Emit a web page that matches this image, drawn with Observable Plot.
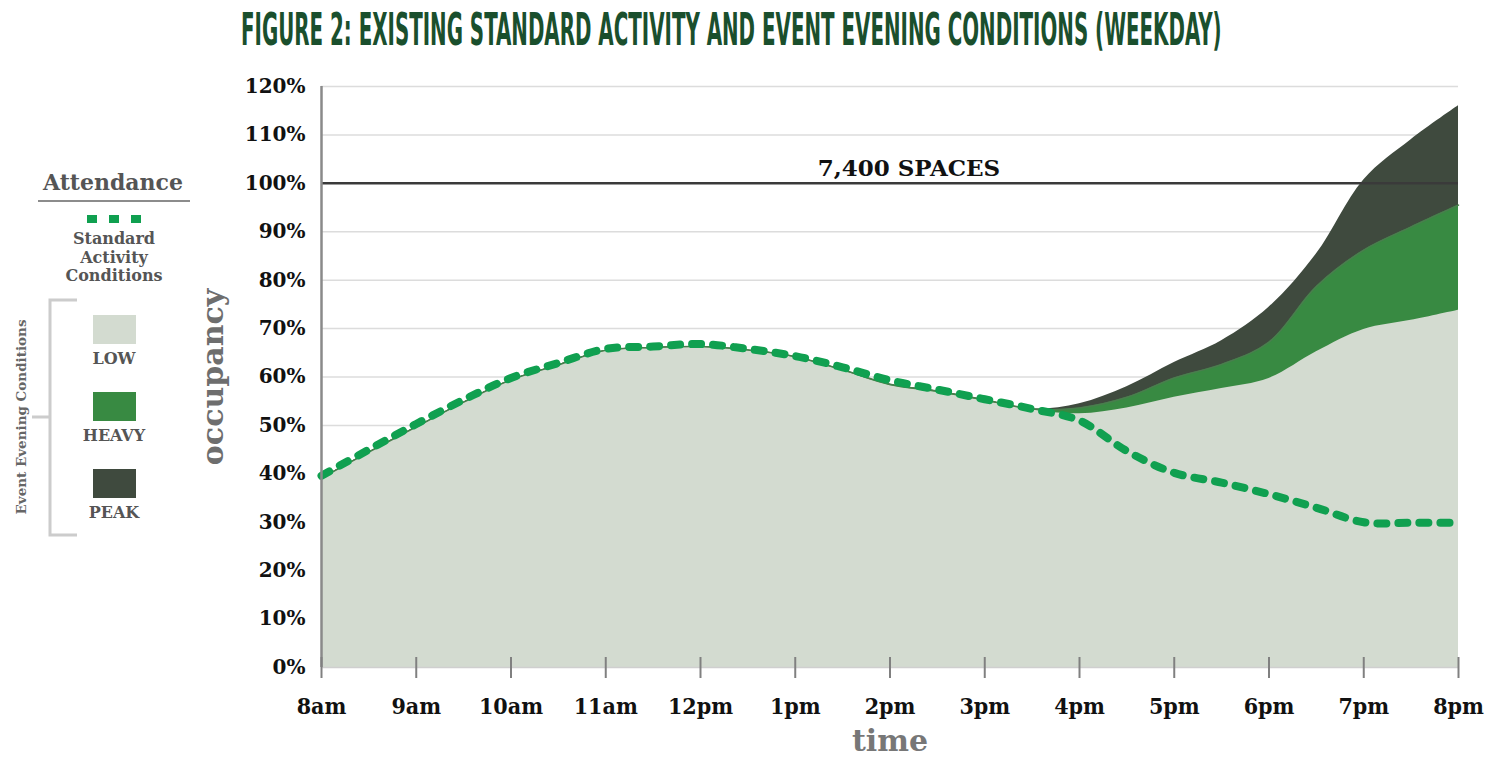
<!DOCTYPE html>
<html><head><meta charset="utf-8">
<script src="https://cdn.jsdelivr.net/npm/d3@7"></script>
<script src="https://cdn.jsdelivr.net/npm/@observablehq/plot@0.6"></script>
<style>
body{margin:0;background:#fff;width:1485px;height:765px;overflow:hidden;}
#wrap{position:relative;width:1485px;height:765px;}
#title{position:absolute;left:0;top:0;}
#chart{position:absolute;left:0;top:60px;}
#legend{position:absolute;left:0;top:0;}
</style></head><body>
<div id="wrap">
<svg id="title" width="1485" height="60"></svg>
<div id="chart"></div>
<svg id="legend" width="220" height="545"></svg>
</div>
<script>
const titleText = "FIGURE 2: EXISTING STANDARD ACTIVITY AND EVENT EVENING CONDITIONS (WEEKDAY)";
const hours = [8, 8.5, 9, 9.5, 10, 10.5, 11, 11.5, 12, 12.5, 13, 13.5, 14, 14.5, 15, 15.5, 16, 16.5, 17, 17.5, 18, 18.5, 19, 19.5, 20];
const low      = [38.9, 44.3, 49.5, 54.6, 59.2, 62.3, 65.3, 65.9, 66.1, 65.4, 64.0, 61.3, 58.2, 56.8, 55.0, 53.2, 52.4, 53.6, 55.8, 57.6, 59.7, 65.2, 69.8, 71.7, 73.8];
const heavy    = [39.1, 44.5, 49.7, 54.8, 59.4, 62.5, 65.5, 66.1, 66.3, 65.6, 64.2, 61.5, 58.5, 57.1, 55.3, 53.4, 53.6, 55.8, 59.8, 62.6, 67.2, 78.7, 86.2, 91.0, 95.5];
const peak     = [39.1, 44.5, 49.7, 54.8, 59.4, 62.5, 65.5, 66.1, 66.3, 65.6, 64.2, 61.5, 58.5, 57.1, 55.3, 53.4, 54.5, 58.0, 63.0, 67.5, 74.4, 85.4, 100.7, 109.0, 116.0];
const standard = [39.6, 45.0, 50.3, 55.3, 59.8, 62.9, 65.8, 66.3, 66.8, 65.8, 64.3, 62.0, 59.3, 57.4, 55.4, 53.4, 51.0, 44.7, 40.2, 38.2, 35.8, 33.0, 30.0, 29.9, 29.9];
const xTicks  = [8, 9, 10, 11, 12, 13, 14, 15, 16, 17, 18, 19, 20];
const xLabels = ["8am", "9am", "10am", "11am", "12pm", "1pm", "2pm", "3pm", "4pm", "5pm", "6pm", "7pm", "8pm"];
const yTicks  = [0, 10, 20, 30, 40, 50, 60, 70, 80, 90, 100, 110, 120];
const capacity = {label: "7,400 SPACES", value: 100, hour: 14.2};
const legendNames  = ["LOW", "HEAVY", "PEAK"];
const legendColors = ["#d3dbd0", "#388a42", "#3f4a3e"];
const standardColor = "#10a050";

const data = hours.map((h, i) => ({hour: h, low: low[i], heavy: heavy[i], peak: peak[i], standard: standard[i]}));
const serif = "'DejaVu Serif', serif";
const serifCond = "'DejaVu Serif Condensed', 'DejaVu Serif', serif";
const curve = "catmull-rom";

// title (scaled horizontally to the reference's narrow width)
const ns = "http://www.w3.org/2000/svg";
const tsvg = document.getElementById("title");
const tt = document.createElementNS(ns, "text");
tt.setAttribute("x", 0); tt.setAttribute("y", 0);
tt.setAttribute("font-family", "'Liberation Sans Narrow','DejaVu Sans Condensed',sans-serif");
tt.setAttribute("font-weight", "bold"); tt.setAttribute("font-size", 45); tt.setAttribute("fill", "#1a4f2d");
tt.textContent = titleText;
tsvg.appendChild(tt);
const tlen = tt.getComputedTextLength() || 1500;
tt.setAttribute("transform", `translate(241,45) scale(${981 / tlen},1)`);

const chart = Plot.plot({
  width: 1485, height: 705,
  marginLeft: 321, marginRight: 27, marginTop: 26, marginBottom: 98,
  style: {fontFamily: serif, background: "transparent"},
  x: {domain: [8, 20]},
  y: {domain: [0, 120]},
  marks: [
    Plot.ruleY(yTicks.filter(d => d !== 0 && d !== 100), {stroke: "#dcdcdc", strokeWidth: 1.5}),
    Plot.areaY(data, {x: "hour", y: "peak", fill: legendColors[2], curve}),
    Plot.areaY(data, {x: "hour", y: "heavy", fill: legendColors[1], curve}),
    Plot.areaY(data, {x: "hour", y: "low", fill: legendColors[0], curve}),
    Plot.line(data, {x: "hour", y: "heavy", stroke: "#4a7d4e", strokeWidth: 1.5, curve}),
    Plot.ruleY([0], {stroke: "#cfcfcf", strokeWidth: 1.5}),
    Plot.ruleY([capacity.value], {stroke: "#3a3a3a", strokeWidth: 2.5}),
    Plot.text([capacity], {x: "hour", y: "value", text: "label", dy: -15, fontSize: 23, fontWeight: "bold", fill: "#111"}),
    Plot.line(data, {x: "hour", y: "standard", stroke: standardColor, strokeWidth: 8, strokeDasharray: "9,12", curve}),
    Plot.ruleX([8], {stroke: "#8a8a8a", strokeWidth: 2.5}),
    Plot.axisY({ticks: yTicks, tickFormat: d => d + "%", tickSize: 0, tickPadding: 16, fontSize: 20, fontWeight: "bold", fill: "#111", label: null}),
    Plot.axisX({ticks: xTicks, tickFormat: d => xLabels[xTicks.indexOf(d)], tickSize: 21, dy: -10, tickPadding: 19, fontSize: 23, fontWeight: "bold", fontFamily: serifCond, stroke: "#808080", strokeWidth: 2, fill: "#111", label: null}),
    Plot.text(["time"], {frameAnchor: "bottom", dy: 83, fontSize: 30, fontWeight: "bold", fill: "#777"}),
    Plot.text(["occupancy"], {frameAnchor: "left", textAnchor: "middle", dx: -108, rotate: -90, fontSize: 30, fontWeight: "bold", fill: "#6e6e6e"})
  ]
});
document.getElementById("chart").appendChild(chart);

// legend
const lg = d3.select("#legend").attr("font-family", serif).attr("font-weight", "bold");
lg.append("text").attr("x", 113).attr("y", 190).attr("text-anchor", "middle").attr("font-size", 22).attr("fill", "#555").text("Attendance");
lg.append("line").attr("x1", 38).attr("x2", 190).attr("y1", 201).attr("y2", 201).attr("stroke", "#666").attr("stroke-width", 1.5);
lg.append("line").attr("x1", 87).attr("x2", 141).attr("y1", 219).attr("y2", 219).attr("stroke", standardColor).attr("stroke-width", 8).attr("stroke-dasharray", "10,12");
["Standard", "Activity", "Conditions"].forEach((t, i) => {
  lg.append("text").attr("x", 114).attr("y", 244 + i * 18.5).attr("text-anchor", "middle").attr("font-size", 16).attr("fill", "#555").text(t);
});
lg.append("path").attr("d", "M77,300H50V535H77M32,417H50").attr("fill", "none").attr("stroke", "#cccccc").attr("stroke-width", 3);
lg.append("text").attr("transform", "translate(26,417) rotate(-90)").attr("text-anchor", "middle").attr("font-size", 13.5).attr("fill", "#666").text("Event Evening Conditions");
legendNames.forEach((n, i) => {
  const y0 = 315 + i * 77;
  lg.append("rect").attr("x", 93).attr("y", y0).attr("width", 43).attr("height", 29).attr("fill", legendColors[i]);
  lg.append("text").attr("x", 114).attr("y", y0 + 49).attr("text-anchor", "middle").attr("font-size", 16).attr("fill", "#555").text(n);
});
</script>
</body></html>
